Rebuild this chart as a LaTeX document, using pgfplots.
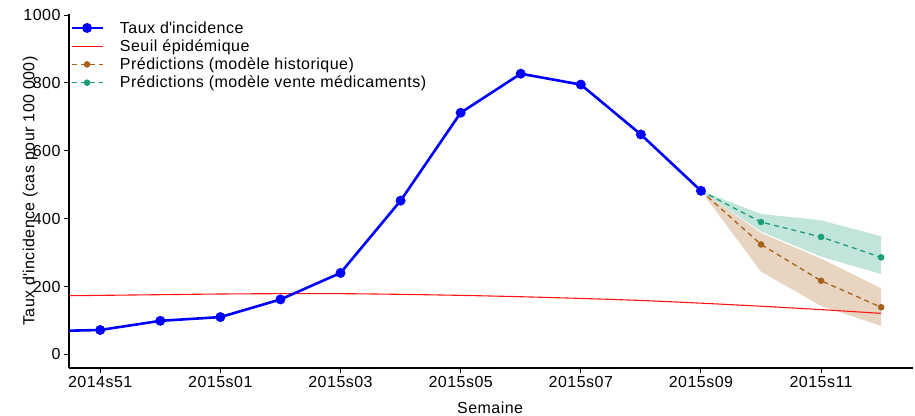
\documentclass[border=0pt]{standalone}
\usepackage{fontspec}
\setmainfont[LetterSpace=3]{Liberation Sans}
\usepackage{pgfplots}
\pgfplotsset{compat=1.18}
\definecolor{cblue}{RGB}{0,0,255}
\definecolor{cred}{RGB}{255,20,20}
\definecolor{cbrown}{RGB}{166,97,26}
\definecolor{cgreen}{RGB}{27,158,119}
\newcommand\ff{\fontsize{16bp}{18bp}\selectfont}
\begin{document}
\begin{tikzpicture}
\begin{axis}[
  at={(69bp,48bp)}, anchor=south west,
  scale only axis, width=844bp, height=354bp,
  xmin=-0.52, xmax=13.53, ymin=-40, ymax=1003,
  axis x line*=bottom, axis y line*=left,
  axis line style={line width=1.2bp, black},
  tick align=outside, major tick length=5bp,
  tick style={line width=1bp, black},
  xtick={0,2,...,12},
  xticklabels={2014s51,2015s01,2015s03,2015s05,2015s07,2015s09,2015s11},
  ytick={0,200,...,1000},
  /pgf/number format/assume math mode=true,
  /pgf/number format/1000 sep={},
  tick label style={font=\ff},
  label style={font=\ff},
  xlabel={Semaine},
  ylabel={Taux d\textquotesingle incidence (cas pour 100 000)},
  xlabel style={at={(axis description cs:0.499,-0.113)}, anchor=center},
  ylabel style={at={(axis description cs:-0.046,0.5)}, anchor=center},
  legend style={at={(axis description cs:0.0,0.988)}, anchor=north west,
    draw=none, fill=none, font=\ff, row sep=1bp, column sep=14bp, inner sep=1bp},
  legend cell align=left,
]
\addlegendimage{cblue, line width=2.6bp, mark=*, mark size=3.6bp,
  legend image code/.code={\draw[mark repeat=2,mark phase=2] plot coordinates {(0cm,0cm) (0.55cm,0cm) (1.1cm,0cm)};}}
\addlegendentry{Taux d\textquotesingle incidence}
\addlegendimage{cred, line width=1.1bp,
  legend image code/.code={\draw (0cm,0cm) -- (1.1cm,0cm);}}
\addlegendentry{Seuil épidémique}
\addlegendimage{cbrown, line width=1.3bp, dash pattern=on 5bp off 4bp, mark=*, mark size=2.6bp, mark options={solid},
  legend image code/.code={\draw[mark repeat=2,mark phase=2] plot coordinates {(0cm,0cm) (0.55cm,0cm) (1.1cm,0cm)};}}
\addlegendentry{Prédictions (modèle historique)}
\addlegendimage{cgreen, line width=1.3bp, dash pattern=on 5bp off 4bp, mark=*, mark size=2.6bp, mark options={solid},
  legend image code/.code={\draw[mark repeat=2,mark phase=2] plot coordinates {(0cm,0cm) (0.55cm,0cm) (1.1cm,0cm)};}}
\addlegendentry{Prédictions (modèle vente médicaments)}
% bands
\addplot[forget plot, draw=none, fill=cbrown, fill opacity=0.27] coordinates {
 (10,482) (11,358) (12,282) (13,195) (13,84) (12,143) (11,244) (10,482)} -- cycle;
\addplot[forget plot, draw=none, fill=cgreen, fill opacity=0.27] coordinates {
 (10,482) (11,414) (12,395) (13,348) (13,237) (12,288) (11,362) (10,482)} -- cycle;
% threshold
\addplot[forget plot, cred, line width=1.1bp, smooth] coordinates {
 (-1,172) (0,174) (1,176) (2,178) (3,179) (4,179) (5,177) (6,174) (7,170) (8,165) (9,159) (10,151) (11,142) (12,132) (13,121)};
% predictions
\addplot[forget plot, cbrown, line width=1.3bp, dash pattern=on 5bp off 4bp, mark=*, mark size=2.6bp, mark options={solid}, mark indices={2,3,4}] coordinates {
 (10,482) (11,324) (12,217) (13,139)};
\addplot[forget plot, cgreen, line width=1.3bp, dash pattern=on 5bp off 4bp, mark=*, mark size=2.6bp, mark options={solid}, mark indices={2,3,4}] coordinates {
 (10,482) (11,390) (12,346) (13,286)};
% observed
\addplot[forget plot, cblue, line width=2.6bp, mark=*, mark size=3.6bp] coordinates {
 (-1,68) (0,72) (1,99) (2,110) (3,162) (4,240) (5,453) (6,712) (7,827) (8,795) (9,648) (10,482)};
\end{axis}
\pgfresetboundingbox
\path (0,0) rectangle (915bp,416bp);
\end{tikzpicture}
\end{document}
